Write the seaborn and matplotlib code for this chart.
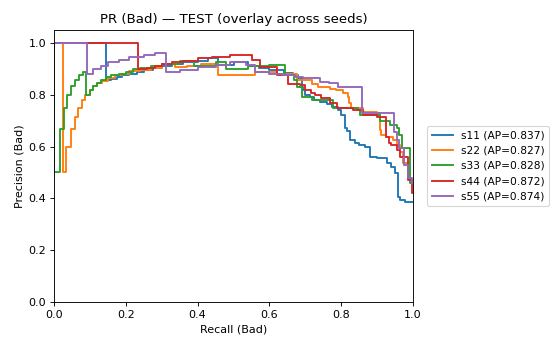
import matplotlib
matplotlib.use("Agg")
import matplotlib.pyplot as plt
import seaborn as sns
import pandas as pd

seeds = ["s11", "s22", "s33", "s44", "s55"]
ap_values = [0.837, 0.827, 0.828, 0.872, 0.874]

recall_s11 = [0, .144, .16, .175, .19, .21, .23, .25, .275, .30,
              .33, .36, .40, .43, .457, .50, .54, .57, .60, .64,
              .666, .68, .69, .694, .70, .713, .725, .74, .76, .775,
              .79, .80, .81, .815, .825, .838, .85, .865, .88, .889,
              .90, .915, .927, .94, .95, .958, .964, .978, 1.0]
precision_s11 = [1, 1, .856, .862, .868, .875, .882, .888, .895, .902,
                 .91, .917, .925, .932, .94, .915, .925, .912, .905, .895,
                 .883, .875, .864, .829, .82, .798, .79, .78, .771, .765,
                 .752, .74, .721, .67, .66, .625, .615, .605, .598, .56,
                 .558, .556, .554, .535, .52, .497, .405, .393, .386]

recall_s22 = [0, .025, .034, .046, .058, .067, .078, .087, .099, .11,
              .12, .135, .15, .17, .19, .21, .24, .27, .30, .337,
              .37, .41, .457, .56, .62, .676, .72, .735, .77, .785,
              .805, .82, .823, .826, .86, .899, .908, .912, .926, .944,
              .955, .963, .972, .985, .995, 1.0]
precision_s22 = [1, 1, .5, .6, .667, .714, .75, .778, .8, .818,
                 .833, .845, .855, .865, .875, .882, .89, .897, .905, .92,
                 .906, .912, .92, .878, .888, .882, .856, .843, .83, .824,
                 .818, .805, .79, .767, .748, .734, .729, .663, .644, .638,
                 .625, .605, .58, .536, .48, .47]

recall_s33 = [0, .017, .027, .037, .048, .059, .07, .08, .088,
              .10, .11, .12, .13, .145, .16, .18, .20, .22, .24,
              .27, .30, .35, .39, .45, .48, .54, .60, .643,
              .668, .676, .69, .718, .777, .847, .852, .908, .935,
              .955, .96, .97, .992, 1.0]
precision_s33 = [1, .5, .667, .75, .8, .833, .857, .875, .889,
                 .8, .818, .833, .846, .857, .867, .875, .882, .889, .9,
                 .905, .91, .92, .93, .91, .925, .90, .91, .914,
                 .875, .856, .83, .79, .78, .748, .74, .72, .70,
                 .683, .67, .645, .594, .46]

recall_s44 = [0, .235, .26, .28, .30, .33, .36, .40, .44, .49,
              .551, .574, .62, .652, .685, .70, .715, .727, .745, .769,
              .787, .833, .86, .90, .925, .933, .94, .955, .964, .986,
              .997, 1.0]
precision_s44 = [1, 1, .90, .905, .912, .918, .925, .932, .94, .947,
                 .955, .933, .907, .875, .843, .837, .82, .805, .798, .786,
                 .767, .748, .74, .721, .714, .638, .613, .605, .586, .56,
                 .47, .42]

recall_s55 = [0, .092, .11, .13, .15, .18, .21, .25, .28, .312,
              .35, .40, .45, .49, .535, .56, .60, .638, .671, .694,
              .74, .765, .79, .858, .948, .955, .962, .975, .985, .996,
              1.0]
precision_s55 = [1, 1, .882, .9, .912, .925, .935, .945, .952, .96,
                 .888, .897, .907, .915, .927, .914, .888, .88, .875, .869,
                 .864, .85, .845, .83, .729, .657, .625, .594, .53, .478,
                 .46]

recalls = [recall_s11, recall_s22, recall_s33, recall_s44, recall_s55]
precisions = [precision_s11, precision_s22, precision_s33, precision_s44, precision_s55]

frames = []
for s, ap, r, p in zip(seeds, ap_values, recalls, precisions):
    lab = f"{s} (AP={ap:.3f})"
    frames.append(pd.DataFrame({"recall": r, "precision": p, "label": lab}))
df = pd.concat(frames, ignore_index=True)
labels = [f"{s} (AP={ap:.3f})" for s, ap in zip(seeds, ap_values)]

DPI = 80
fig = plt.figure(figsize=(552 / DPI, 338 / DPI), dpi=DPI)
ax = fig.add_axes([54 / 552, 36 / 338, (413 - 54) / 552, (302 - 30) / 338])

sns.lineplot(data=df, x="recall", y="precision", hue="label", hue_order=labels,
             palette="tab10", estimator=None, sort=False, drawstyle="steps-pre",
             linewidth=1.7, legend=False, ax=ax)

ax.set_xlim(0, 1)
ax.set_ylim(0, 1.05)
ax.set_xticks([0, 0.2, 0.4, 0.6, 0.8, 1.0])
ax.set_yticks([0, 0.2, 0.4, 0.6, 0.8, 1.0])
ax.set_xlabel("Recall (Bad)")
ax.set_ylabel("Precision (Bad)")
ax.set_title("PR (Bad) \u2014 TEST (overlay across seeds)")

lines = ax.get_lines()[:len(labels)]
ax.legend(lines, labels, loc="center left", bbox_to_anchor=(1.04, 0.5),
          borderaxespad=0, fontsize=9.6)

fig.savefig("out.png", dpi=DPI)
